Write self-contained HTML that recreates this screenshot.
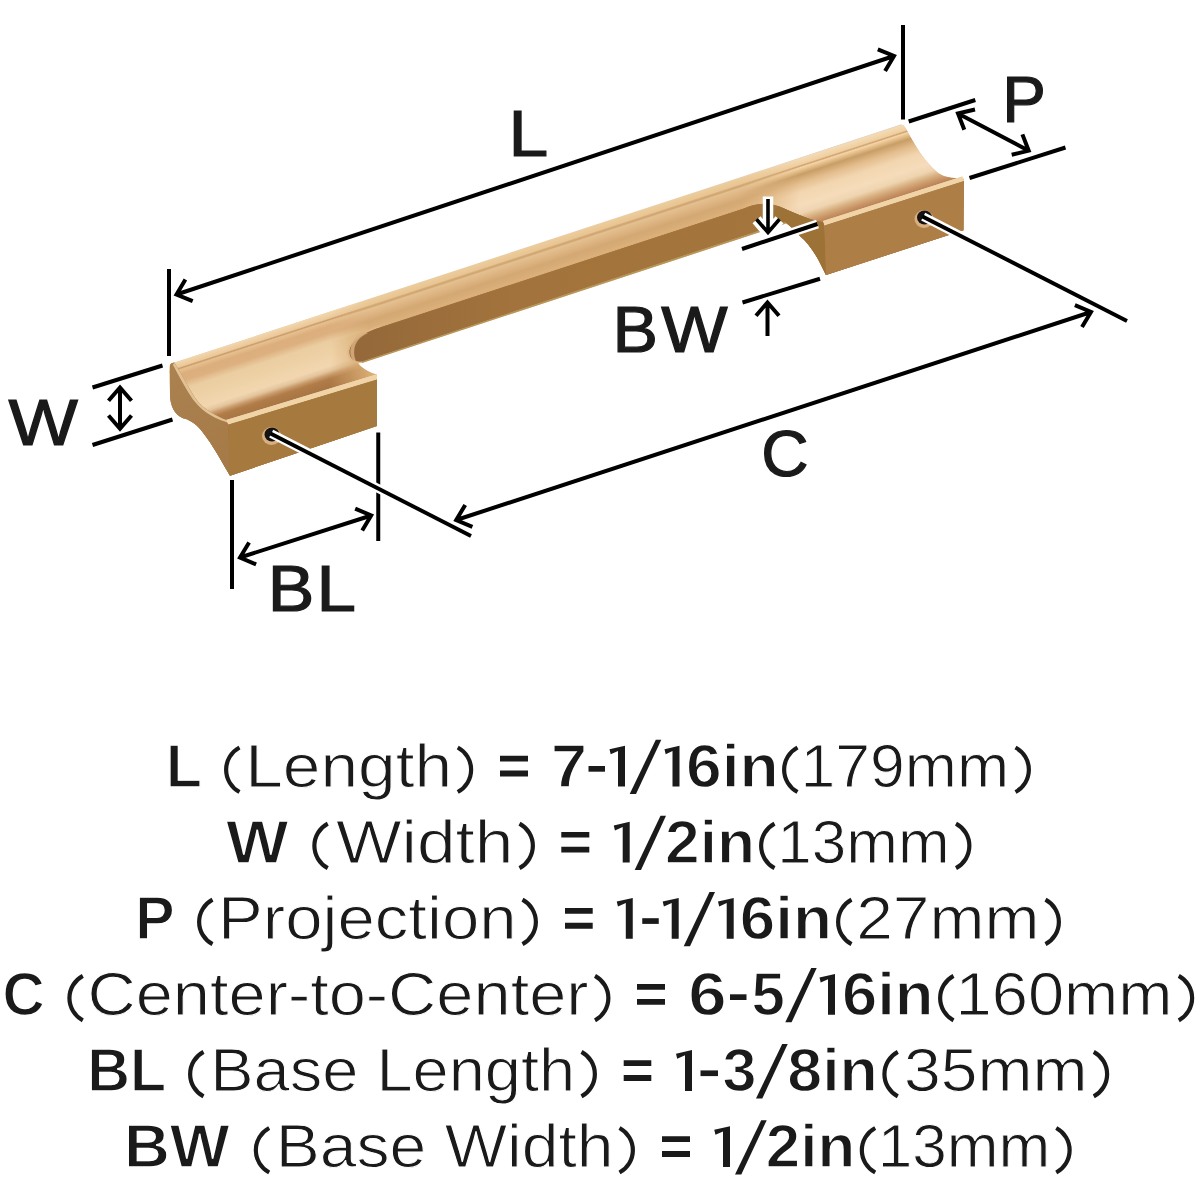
<!DOCTYPE html>
<html>
<head>
<meta charset="utf-8">
<style>
html,body{margin:0;padding:0;background:#fff;}
body{width:1200px;height:1200px;overflow:hidden;position:relative;font-family:"Liberation Sans",sans-serif;}
svg{position:absolute;left:0;top:0;}
.dim{stroke:#000;stroke-width:4;fill:none;stroke-linecap:butt;stroke-linejoin:miter;}
.lbl{font-family:"Liberation Sans",sans-serif;fill:#1a1a1a;stroke:#1a1a1a;stroke-width:1.2;font-size:65px;font-kerning:none;}
.tb{font-family:"Liberation Sans",sans-serif;font-weight:bold;fill:#1a1a1a;stroke:#fff;stroke-width:1.4;font-size:61.6px;font-kerning:none;}
.tr{font-family:"Liberation Sans",sans-serif;fill:#1a1a1a;stroke:#fff;stroke-width:1;font-size:61px;font-kerning:none;}
.par{fill:none;stroke:#1a1a1a;stroke-width:4.2;}
</style>
</head>
<body>
<svg width="1200" height="1200" viewBox="0 0 1200 1200">
<defs>
<linearGradient id="gMid" gradientUnits="userSpaceOnUse" x1="600" y1="222.82" x2="623.57" y2="295.13"><stop offset="0.0000" stop-color="#e2d2bc"/><stop offset="0.0163" stop-color="#edcc9c"/><stop offset="0.0875" stop-color="#e8c592"/><stop offset="0.1025" stop-color="#d4ab78"/><stop offset="0.1187" stop-color="#d0a672"/><stop offset="0.1375" stop-color="#e4c090"/><stop offset="0.2125" stop-color="#ddb482"/><stop offset="0.2875" stop-color="#d4a872"/><stop offset="0.3500" stop-color="#d8ac76"/><stop offset="0.3875" stop-color="#dcb07a"/><stop offset="0.4125" stop-color="#d9ac74"/><stop offset="1.0000" stop-color="#d9ac74"/></linearGradient>
<linearGradient id="gLeft" gradientUnits="userSpaceOnUse" x1="290" y1="323.88" x2="313.57" y2="396.19"><stop offset="0.0000" stop-color="#e6d6c0"/><stop offset="0.0150" stop-color="#f2d6ae"/><stop offset="0.0875" stop-color="#ebc898"/><stop offset="0.1062" stop-color="#c9996a"/><stop offset="0.1250" stop-color="#e6c08e"/><stop offset="0.1875" stop-color="#dcae7e"/><stop offset="0.2750" stop-color="#ddb080"/><stop offset="0.3750" stop-color="#eacda0"/><stop offset="0.5625" stop-color="#efd3a8"/><stop offset="0.6875" stop-color="#f2d6b0"/><stop offset="0.7500" stop-color="#e2c49c"/><stop offset="0.8000" stop-color="#c89868"/><stop offset="0.8500" stop-color="#b07c48"/><stop offset="0.9500" stop-color="#a87544"/><stop offset="1.0000" stop-color="#a87544"/></linearGradient>
<linearGradient id="gRight" gradientUnits="userSpaceOnUse" x1="880" y1="131.54" x2="903.57" y2="203.85"><stop offset="0.0000" stop-color="#e6d6c0"/><stop offset="0.0150" stop-color="#f4dab4"/><stop offset="0.0875" stop-color="#efcfa0"/><stop offset="0.1062" stop-color="#cfa070"/><stop offset="0.1250" stop-color="#f6d4a4"/><stop offset="0.2125" stop-color="#c89e66"/><stop offset="0.3125" stop-color="#e3bc8c"/><stop offset="0.4375" stop-color="#f2d6b0"/><stop offset="0.6000" stop-color="#f6dcba"/><stop offset="0.7000" stop-color="#eed4b0"/><stop offset="0.7750" stop-color="#d8b080"/><stop offset="0.8375" stop-color="#c89468"/><stop offset="0.9000" stop-color="#b88050"/><stop offset="1.0000" stop-color="#b07c48"/></linearGradient>
<linearGradient id="gBand" gradientUnits="userSpaceOnUse" x1="350" y1="0" x2="820" y2="0"><stop offset="0" stop-color="#94683a"/><stop offset="0.35" stop-color="#a2733c"/><stop offset="1" stop-color="#a4763c"/></linearGradient>
<linearGradient id="gEnd" gradientUnits="userSpaceOnUse" x1="175" y1="370" x2="225" y2="470"><stop offset="0" stop-color="#ab8150"/><stop offset="1" stop-color="#a57a46"/></linearGradient>
<linearGradient id="fadeL" gradientUnits="userSpaceOnUse" x1="330" y1="0" x2="370" y2="0"><stop offset="0" stop-color="#fff"/><stop offset="1" stop-color="#fff" stop-opacity="0"/></linearGradient>
<linearGradient id="fadeR" gradientUnits="userSpaceOnUse" x1="740" y1="0" x2="800" y2="0"><stop offset="0" stop-color="#fff" stop-opacity="0"/><stop offset="1" stop-color="#fff"/></linearGradient>
<mask id="mL" maskUnits="userSpaceOnUse" x="0" y="0" width="1200" height="1200"><rect width="1200" height="1200" fill="url(#fadeL)"/></mask>
<mask id="mR" maskUnits="userSpaceOnUse" x="0" y="0" width="1200" height="1200"><rect width="1200" height="1200" fill="url(#fadeR)"/></mask>
<clipPath id="cSil"><path d="M169.5,367 Q170,362.3 174.5,362.6 L901,124.6 Q904,125 905.5,128 C913,141 922,160 938,173 C944,177 950,178 963.4,178.8 L963.4,230.2 L826,275 C820,262 812,246 800,236 C795,230 790,226 785,222 L358,362.5 C360,367 368,372 377,374.5 L377,426 L230,475.7 C224,466 214,446 201,430 C195,423 189,419.5 183,418.3 C174,414 170.5,406 170,395 Z"/></clipPath>
</defs>
<g id="handle">
<path d="M169.5,367 Q170,362.3 174.5,362.6 L901,124.6 Q904,125 905.5,128 C913,141 922,160 938,173 C944,177 950,178 963.4,178.8 L963.4,230.2 L826,275 C820,262 812,246 800,236 C795,230 790,226 785,222 L358,362.5 C360,367 368,372 377,374.5 L377,426 L230,475.7 C224,466 214,446 201,430 C195,423 189,419.5 183,418.3 C174,414 170.5,406 170,395 Z" fill="url(#gMid)"/>
<g clip-path="url(#cSil)">
<rect x="150" y="250" width="230" height="250" fill="url(#gLeft)" mask="url(#mL)"/>
<rect x="730" y="100" width="250" height="200" fill="url(#gRight)" mask="url(#mR)"/>
</g>
<path d="M380,327.5 L744,208.6 C752,204.5 764,201.5 778,206 C791,211 805,219 823.75,222.5 L826,275 C820,262 812,246 800,236 C795,230 790,226 785,222 L362,361.4 C354,362.5 349.5,358 349.5,352 C350,342 362,333 380,327.5 Z" fill="url(#gBand)"/>
<path d="M778,206 C791,211 805,219 823.75,222.5 L826,275 C820,262 812,246 800,236 C795,230 790,226 785,222 L760,230 Z" fill="#977032" opacity="0.6"/>
<path d="M380,327.5 C362,333 350,342 349.5,352 C349.5,358 354,362.5 362,361.4 L362,363 C352,364 347.5,359 347.5,352 C348,341 360,331 380,325.8 Z" fill="#e0b886" opacity="0.9"/>
<path d="M362,361.4 L785,222 L786,223.6 L362,363 Z" fill="#b08a48" opacity="0.7"/>
<path d="M170,366 Q170.5,362.5 174.5,362.8 C180,372 186,383 195,398 C201,406 210,414 227.2,420.4 L230,475.7 C224,466 214,446 201,430 C195,423 189,419.5 183,418.3 C174,414 170.5,406 170,395 Z" fill="url(#gEnd)"/>
<path d="M174.5,362.8 C180,372 186,383 195,398 C201,406 210,414 227.2,420.4 L227.5,422.6 C209,416.5 200,408.5 193,399.5 C184,386 178,374 172.8,364.8 Z" fill="#e2c294"/>
<path d="M226,420 L377,374.2 L377,379.5 L228.5,424.5 Z" fill="#f0d4a8"/>
<path d="M228.5,424.5 L377,379.5 L377,426 L230,475.7 Z" fill="#a67a3e"/>
<path d="M823,221 L962.2,176.5 L964,181 L824.5,225.5 Z" fill="#f0d4a8"/>
<path d="M824.5,225.5 L964,181 L963.4,230.2 L826,275 Z" fill="#ad7e46"/>
<ellipse cx="272" cy="435" rx="9.8" ry="9.8" fill="#e6c9a0"/>
<ellipse cx="273.2" cy="433.2" rx="8.2" ry="7.8" fill="#120f0e"/>
<ellipse cx="924" cy="218.5" rx="9.8" ry="9.8" fill="#e6c9a0"/>
<ellipse cx="925.2" cy="216.7" rx="8.2" ry="7.8" fill="#120f0e"/>
</g>
<path d="M380,327.5 L744,208.6 C752,204.5 764,201.5 778,206 C791,211 805,219 823.75,222.5 L826,275 C820,262 812,246 800,236 C795,230 790,226 785,222 L362,361.4 C354,362.5 349.5,358 349.5,352 C350,342 362,333 380,327.5 Z" fill="url(#gBand)"/>
<path d="M778,206 C791,211 805,219 823.75,222.5 L826,275 C820,262 812,246 800,236 C795,230 790,226 785,222 L760,230 Z" fill="#977032" opacity="0.6"/>
<path d="M351,347 C353,339 358,334 365,332 L368,333 C361,336 356,341 354.5,348 C353.5,354 354.5,359 357,363 C351,360 349,354 351,347 Z" fill="#d9b080" opacity="0.85"/>
<path d="M362,361.4 L785,222 L786,223.6 L362,363 Z" fill="#b08a48" opacity="0.7"/>
<path d="M170,366 Q170.5,362.5 174.5,362.8 C180,372 186,383 195,398 C201,406 210,414 227.2,420.4 L230,475.7 C224,466 214,446 201,430 C195,423 189,419.5 183,418.3 C174,414 170.5,406 170,395 Z" fill="url(#gEnd)"/>
<path d="M174.5,362.8 C180,372 186,383 195,398 C201,406 210,414 227.2,420.4 L227.5,422.6 C209,416.5 200,408.5 193,399.5 C184,386 178,374 172.8,364.8 Z" fill="#e2c294"/>
<path d="M226,420 L377,374.2 L377,379.5 L228.5,424.5 Z" fill="#f0d4a8"/>
<path d="M228.5,424.5 L377,379.5 L377,426 L230,475.7 Z" fill="#a67a3e"/>
<path d="M823,221 L962.2,176.5 L964,181 L824.5,225.5 Z" fill="#f0d4a8"/>
<path d="M824.5,225.5 L964,181 L963.4,230.2 L826,275 Z" fill="#ad7e46"/>
<ellipse cx="271.5" cy="436" rx="9.5" ry="9" fill="#d8b080"/>
<ellipse cx="272" cy="434.5" rx="7.5" ry="7" fill="#151213"/>
<ellipse cx="924" cy="219" rx="9.5" ry="9" fill="#d8b080"/>
<ellipse cx="924.5" cy="217.5" rx="7.5" ry="7" fill="#151213"/>
</g>

<!-- ============ DIMENSIONS ============ -->
<path class="dim" d="M169,269 L169,356"/>
<path class="dim" d="M903,25 L903,119.5"/>
<path class="dim" d="M176.5,294.5 L894,56 M192.7,301.2 L176.5,294.5 L185.4,279.4 M877.8,49.3 L894.0,56.0 L885.1,71.1"/>
<path class="dim" d="M92.5,387.5 L162.5,365.5"/>
<path class="dim" d="M92.5,445 L172.5,419.5"/>
<path class="dim" d="M120,387.5 L120,428.75 M108.5,400.7 L120.0,387.5 L131.5,400.7 M131.5,415.5 L120.0,428.8 L108.5,415.5"/>
<path class="dim" d="M908.7,121.5 L975.3,100"/>
<path class="dim" d="M969.5,178 L1065.5,147.5"/>
<path class="dim" d="M958,113.5 L1028.7,150.7 M964.3,129.8 L958.0,113.5 L975.0,109.5 M1022.4,134.4 L1028.7,150.7 L1011.7,154.7"/>
<path d="M742,249 L817.5,224" stroke="#fff" stroke-width="9" fill="none"/>
<path d="M768,196.5 L768,233 M779.5,219.8 L768.0,233.0 L756.5,219.8" stroke="#fff" stroke-width="10.5" fill="none" stroke-linejoin="miter"/>
<path class="dim" d="M742,249 L817.5,224"/>
<path d="M768,199 L768,232.5 M779.5,219.3 L768.0,232.5 L756.5,219.3" stroke="#000" stroke-width="3.6" fill="none"/>
<path class="dim" d="M742.5,302.5 L820,278.75"/>
<path class="dim" d="M767.5,336 L767.5,302.5 M756.0,315.7 L767.5,302.5 L779.0,315.7"/>
<path class="dim" d="M232,480 L232,589"/>
<path class="dim" d="M378.25,432.5 L378.25,541"/>
<path class="dim" d="M240,557.5 L371.25,515.5 M256.1,564.4 L240.0,557.5 L249.1,542.5 M355.2,508.6 L371.2,515.5 L362.2,530.5"/>
<path class="dim" d="M456.25,520 L1091,312 M472.4,526.8 L456.2,520.0 L465.2,505.0 M1074.9,305.2 L1091.0,312.0 L1082.0,327.0"/>
<path d="M271.2,433.7 L471,536" stroke="#fff" stroke-width="8.8" fill="none"/>
<path d="M923.2,216.7 L1127,321" stroke="#fff" stroke-width="8.8" fill="none"/>
<path d="M270.5,433.4 L471,536" stroke="#000" stroke-width="3.9" fill="none"/>
<path d="M922.5,216.4 L1127,321" stroke="#000" stroke-width="3.9" fill="none"/>

<!-- labels -->
<text class="lbl" x="508.54" y="155.8" textLength="39.73" lengthAdjust="spacingAndGlyphs">L</text>
<text class="lbl" x="1002.24" y="122.10000000000001" textLength="43.61" lengthAdjust="spacingAndGlyphs">P</text>
<text class="lbl" x="8.58" y="445.4" textLength="69.37" lengthAdjust="spacingAndGlyphs">W</text>
<text class="lbl" x="761.27" y="476.4" textLength="47.32" lengthAdjust="spacingAndGlyphs">C</text>
<text class="lbl" x="612.51" y="351.9" textLength="45.49" lengthAdjust="spacingAndGlyphs">B</text>
<text class="lbl" x="661.29" y="351.9" textLength="66.35" lengthAdjust="spacingAndGlyphs">W</text>
<text class="lbl" x="267.77" y="611.4" textLength="46.56" lengthAdjust="spacingAndGlyphs">B</text>
<text class="lbl" x="316.48" y="611.4" textLength="39.48" lengthAdjust="spacingAndGlyphs">L</text>

<!-- ============ TEXT ============ -->
<text class="tb" x="166.12" y="786.5" textLength="35.89" lengthAdjust="spacingAndGlyphs">L</text>
<text class="tr" x="245.20" y="786.5" textLength="206.94" lengthAdjust="spacingAndGlyphs">Length</text>
<text class="tr" x="800.48" y="786.5" textLength="208.64" lengthAdjust="spacingAndGlyphs">179mm</text>
<text class="tb" x="551.02" y="786.5" textLength="36.03" lengthAdjust="spacingAndGlyphs">7</text>
<path fill="#1a1a1a" d="M588.5,766.0H605V771.7H588.5Z"/>
<path fill="#1a1a1a" d="M625,786.5L625,745.7L609.5,749.3L610.70,754.3L618.0,750.9L618.0,786.5Z"/>
<path fill="#1a1a1a" d="M679.5,786.5L679.5,745.7L664.5,749.3L665.70,754.3L672.5,750.9L672.5,786.5Z"/>
<text class="tb" x="685.95" y="786.5" textLength="92.73" lengthAdjust="spacingAndGlyphs">6in</text>
<path fill="#1a1a1a" d="M500,755.8H528V761.5H500Z M500,770.6H528V776.5H500Z"/>
<path fill="#1a1a1a" d="M629.7,794.0L636.0,794.0L661.3,739.7L655.8,739.7Z"/>
<path class="par" d="M239.50,747.50 A25.2,25.2 0 0 0 239.50,792.00 M457.75,747.50 A25.2,25.2 0 0 1 457.75,792.00 M797.50,747.50 A25.2,25.2 0 0 0 797.50,792.00 M1015.50,747.50 A25.2,25.2 0 0 1 1015.50,792.00"/>
<text class="tb" x="225.94" y="862.6" textLength="62.53" lengthAdjust="spacingAndGlyphs">W</text>
<text class="tr" x="335.94" y="862.6" textLength="177.57" lengthAdjust="spacingAndGlyphs">Width</text>
<text class="tr" x="777.28" y="862.6" textLength="172.31" lengthAdjust="spacingAndGlyphs">13mm</text>
<path fill="#1a1a1a" d="M629.7,862.6L629.7,821.8L613.75,825.4L614.95,830.4L622.7,827.0L622.7,862.6Z"/>
<text class="tb" x="665.04" y="862.6" textLength="89.92" lengthAdjust="spacingAndGlyphs">2in</text>
<path fill="#1a1a1a" d="M561.3,831.9H589.3V837.6H561.3Z M561.3,846.7H589.3V852.6H561.3Z"/>
<path fill="#1a1a1a" d="M634.7,870.1L641.0,870.1L666,815.8L660.5,815.8Z"/>
<path class="par" d="M327.75,823.60 A25.2,25.2 0 0 0 327.75,868.10 M519.50,823.60 A25.2,25.2 0 0 1 519.50,868.10 M774.50,823.60 A25.2,25.2 0 0 0 774.50,868.10 M956.00,823.60 A25.2,25.2 0 0 1 956.00,868.10"/>
<text class="tb" x="135.35" y="938.7" textLength="39.37" lengthAdjust="spacingAndGlyphs">P</text>
<text class="tr" x="217.99" y="938.7" textLength="298.62" lengthAdjust="spacingAndGlyphs">Projection</text>
<text class="tr" x="856.18" y="938.7" textLength="183.16" lengthAdjust="spacingAndGlyphs">27mm</text>
<path fill="#1a1a1a" d="M632.75,938.7L632.75,897.9L616.75,901.5L617.95,906.5L625.8,903.1L625.8,938.7Z"/>
<path fill="#1a1a1a" d="M642.25,918.2H658.75V923.9H642.25Z"/>
<path fill="#1a1a1a" d="M678.7,938.7L678.7,897.9L662.7,901.5L663.90,906.5L671.7,903.1L671.7,938.7Z"/>
<path fill="#1a1a1a" d="M733.7,938.7L733.7,897.9L718,901.5L719.20,906.5L726.7,903.1L726.7,938.7Z"/>
<text class="tb" x="739.86" y="938.7" textLength="92.19" lengthAdjust="spacingAndGlyphs">6in</text>
<path fill="#1a1a1a" d="M565,908.0H592.7V913.7H565Z M565,922.8H592.7V928.7H565Z"/>
<path fill="#1a1a1a" d="M683.7,946.2L690.0,946.2L715,891.9L709.5,891.9Z"/>
<path class="par" d="M212.50,899.70 A25.2,25.2 0 0 0 212.50,944.20 M522.50,899.70 A25.2,25.2 0 0 1 522.50,944.20 M851.50,899.70 A25.2,25.2 0 0 0 851.50,944.20 M1045.50,899.70 A25.2,25.2 0 0 1 1045.50,944.20"/>
<text class="tb" x="2.40" y="1014.8" textLength="42.19" lengthAdjust="spacingAndGlyphs">C</text>
<text class="tr" x="87.41" y="1014.8" textLength="501.20" lengthAdjust="spacingAndGlyphs">Center-to-Center</text>
<text class="tr" x="955.54" y="1014.8" textLength="217.00" lengthAdjust="spacingAndGlyphs">160mm</text>
<text class="tb" x="688.27" y="1014.8" textLength="38.43" lengthAdjust="spacingAndGlyphs">6</text>
<path fill="#1a1a1a" d="M730,994.3H746.5V1000.0H730Z"/>
<text class="tb" x="751.45" y="1014.8" textLength="33.42" lengthAdjust="spacingAndGlyphs">5</text>
<path fill="#1a1a1a" d="M835,1014.8L835,974.0L819.5,977.6L820.70,982.6L828.0,979.2L828.0,1014.8Z"/>
<text class="tb" x="841.98" y="1014.8" textLength="91.66" lengthAdjust="spacingAndGlyphs">6in</text>
<path fill="#1a1a1a" d="M637,984.1H665V989.8H637Z M637,998.9H665V1004.8H637Z"/>
<path fill="#1a1a1a" d="M785.3,1022.3L791.6,1022.3L816.7,968.0L811.2,968.0Z"/>
<path class="par" d="M82.80,975.80 A25.2,25.2 0 0 0 82.80,1020.30 M595.00,975.80 A25.2,25.2 0 0 1 595.00,1020.30 M953.50,975.80 A25.2,25.2 0 0 0 953.50,1020.30 M1178.75,975.80 A25.2,25.2 0 0 1 1178.75,1020.30"/>
<text class="tb" x="87.34" y="1090.9" textLength="78.88" lengthAdjust="spacingAndGlyphs">BL</text>
<text class="tr" x="210.17" y="1090.9" textLength="365.05" lengthAdjust="spacingAndGlyphs">Base Length</text>
<text class="tr" x="903.98" y="1090.9" textLength="183.62" lengthAdjust="spacingAndGlyphs">35mm</text>
<path fill="#1a1a1a" d="M692,1090.9L692,1050.1L676,1053.7L677.20,1058.7L685.0,1055.3L685.0,1090.9Z"/>
<path fill="#1a1a1a" d="M700.5,1070.4H718V1076.1H700.5Z"/>
<text class="tb" x="722.40" y="1090.9" textLength="34.01" lengthAdjust="spacingAndGlyphs">3</text>
<text class="tb" x="787.31" y="1090.9" textLength="90.58" lengthAdjust="spacingAndGlyphs">8in</text>
<path fill="#1a1a1a" d="M623.7,1060.2H651.3V1065.9H623.7Z M623.7,1075.0H651.3V1080.9H623.7Z"/>
<path fill="#1a1a1a" d="M756,1098.4L762.3,1098.4L787.7,1044.1L782.2,1044.1Z"/>
<path class="par" d="M203.50,1051.90 A25.2,25.2 0 0 0 203.50,1096.40 M581.50,1051.90 A25.2,25.2 0 0 1 581.50,1096.40 M897.80,1051.90 A25.2,25.2 0 0 0 897.80,1096.40 M1093.75,1051.90 A25.2,25.2 0 0 1 1093.75,1096.40"/>
<text class="tb" x="124.06" y="1167.0" textLength="105.71" lengthAdjust="spacingAndGlyphs">BW</text>
<text class="tr" x="275.78" y="1167.0" textLength="337.76" lengthAdjust="spacingAndGlyphs">Base Width</text>
<text class="tr" x="877.77" y="1167.0" textLength="172.58" lengthAdjust="spacingAndGlyphs">13mm</text>
<path fill="#1a1a1a" d="M730,1167.0L730,1126.2L714.25,1129.8L715.45,1134.8L723.0,1131.4L723.0,1167.0Z"/>
<text class="tb" x="765.86" y="1167.0" textLength="89.38" lengthAdjust="spacingAndGlyphs">2in</text>
<path fill="#1a1a1a" d="M662,1136.3H690V1142.0H662Z M662,1151.1H690V1157.0H662Z"/>
<path fill="#1a1a1a" d="M735,1174.5L741.3,1174.5L766.7,1120.2L761.2,1120.2Z"/>
<path class="par" d="M269.20,1128.00 A25.2,25.2 0 0 0 269.20,1172.50 M619.50,1128.00 A25.2,25.2 0 0 1 619.50,1172.50 M875.20,1128.00 A25.2,25.2 0 0 0 875.20,1172.50 M1056.25,1128.00 A25.2,25.2 0 0 1 1056.25,1172.50"/>

</svg>
</body>
</html>
